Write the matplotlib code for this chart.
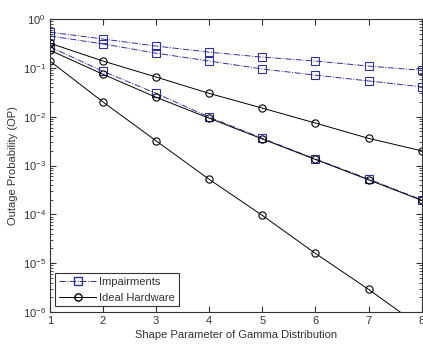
import matplotlib
matplotlib.use("Agg")
import matplotlib.pyplot as plt
import numpy as np

plt.rcParams['font.family'] = ['Liberation Sans', 'DejaVu Sans']
plt.rcParams['mathtext.fontset'] = 'custom'
plt.rcParams['mathtext.rm'] = 'Liberation Sans'

shape = [1, 2, 3, 4, 5, 6, 7, 8]

# impairments (dash-dot, squares)
imp_a = [0.54, 0.39, 0.28, 0.21, 0.166, 0.138, 0.109, 0.089]
imp_b = [0.45, 0.31, 0.20, 0.138, 0.095, 0.071, 0.054, 0.041]
imp_c = [0.27, 0.085, 0.030, 0.0098, 0.0036, 0.00136, 0.00053, 0.000198]

# ideal hardware (solid, circles)
ideal_a = [0.32, 0.138, 0.065, 0.030, 0.015, 0.0074, 0.0036, 0.0020]
ideal_b = [0.23, 0.074, 0.025, 0.0093, 0.0035, 0.00133, 0.00051, 0.000193]
ideal_c = [0.138, 0.020, 0.0032, 0.00052, 0.000095, 0.0000158, 0.0000029, 0.00000048]

blue = '#30309c'
gray = '#333333'

fig = plt.figure(figsize=(4.23, 3.45), dpi=100)
ax = fig.add_axes([0.118, 0.0957, 0.879, 0.849])

for s in [imp_a, imp_b, imp_c]:
    ax.semilogy(shape, s, '-.', color=blue, marker='s', mfc='none', ms=5.2, lw=0.7, mew=0.8)
for s in [ideal_a, ideal_b, ideal_c]:
    ax.semilogy(shape, s, '-', color='black', marker='o', mfc='none', ms=5.2, lw=0.7, mew=0.8)

ax.plot([], [], '-.', color=blue, marker='s', mfc='none', ms=5.2, lw=0.7, label='Impairments')
ax.plot([], [], '-', color='black', marker='o', mfc='none', ms=5.2, lw=0.7, label='Ideal Hardware')

ax.set_xlim(1, 8)
ax.set_ylim(1e-6, 1)
ax.set_xticks(shape)
ax.tick_params(which='both', direction='in', top=True, right=True, labelsize=8,
               color=gray, labelcolor=gray)
ax.tick_params(which='major', length=4, pad=3)
ax.tick_params(which='minor', length=2)
for sp in ax.spines.values():
    sp.set_linewidth(0.8)
    sp.set_color(gray)

ax.set_xlabel('Shape Parameter of Gamma Distribution', fontsize=8, labelpad=2.5, color=gray)
ax.set_ylabel('Outage Probability (OP)', fontsize=8, labelpad=3, color=gray)

leg = ax.legend(loc='lower left', fontsize=8, frameon=True, fancybox=False,
                edgecolor='black', borderaxespad=0.5, handlelength=3.3,
                handletextpad=0.3, borderpad=0.35, labelspacing=0.5)
leg.get_frame().set_linewidth(0.8)
for t in leg.get_texts():
    t.set_color(gray)

fig.savefig('out.png', dpi=100)
